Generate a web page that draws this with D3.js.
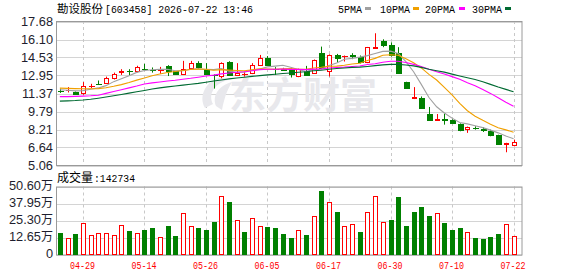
<!DOCTYPE html>
<html><head><meta charset="utf-8">
<script src="https://cdn.jsdelivr.net/npm/d3@7/dist/d3.min.js"></script>
<style>body{margin:0;background:#fff}svg{display:block}</style>
</head><body>
<svg id="c" width="578" height="276"></svg>
<script>
const title = "勘设股份";
const titleRest = "[603458] 2026-07-22 13:46";
const volTitle = "成交量";
const volTitleRest = ":142734";
const dates = ["04-24","04-27","04-28","04-29","04-30","05-06","05-07","05-08","05-11","05-12","05-13","05-14","05-15","05-18","05-19","05-20","05-21","05-22","05-25","05-26","05-27","05-28","05-29","06-01","06-02","06-03","06-04","06-05","06-08","06-09","06-10","06-11","06-12","06-15","06-16","06-17","06-18","06-22","06-23","06-24","06-25","06-26","06-29","06-30","07-01","07-02","07-03","07-06","07-07","07-08","07-09","07-10","07-13","07-14","07-15","07-16","07-17","07-20","07-21","07-22"];
const dateTicks = ["04-29","05-14","05-26","06-05","06-17","06-30","07-10","07-22"];
const opens  = [11.63,11.66,11.52,11.41,12.03,12.22,12.28,12.75,13.28,13.34,13.30,13.55,13.46,13.42,13.79,13.30,13.07,13.59,14.03,13.53,13.00,12.86,14.12,13.00,13.05,13.16,13.88,14.47,13.55,13.50,13.44,12.86,13.38,13.16,14.95,13.30,14.75,14.65,14.72,14.55,14.17,15.40,15.98,15.63,14.90,12.40,11.00,10.97,9.60,9.05,9.12,9.08,8.73,8.23,8.37,8.22,8.06,7.74,6.98,6.87];
const highs  = [11.80,11.93,11.55,12.37,12.22,12.51,12.85,13.20,13.50,13.50,13.80,13.97,13.65,13.70,13.85,13.35,14.23,14.23,14.20,14.03,13.05,14.10,14.20,14.03,13.30,14.03,14.75,14.65,13.68,13.62,13.65,13.55,13.79,14.35,15.48,14.80,14.84,14.70,14.90,14.70,15.45,16.65,16.12,15.85,15.43,12.40,11.93,11.11,10.19,9.57,9.60,9.10,8.75,8.47,8.50,8.42,8.20,7.76,7.05,7.33];
const lows   = [11.42,11.46,11.30,11.26,11.85,12.12,12.20,12.60,13.00,12.98,13.21,13.50,13.20,13.10,12.90,13.00,13.00,13.50,13.55,13.00,11.80,12.70,12.90,12.90,12.85,13.07,13.80,13.78,13.00,13.40,12.77,12.80,12.93,13.10,13.55,12.86,14.08,14.17,14.38,14.00,14.03,15.38,15.43,14.60,13.10,11.81,10.88,10.03,9.00,9.02,8.64,8.75,8.06,7.92,8.20,8.00,7.62,6.93,6.22,6.74];
const closes = [11.58,11.72,11.33,11.99,12.07,12.18,12.72,13.07,13.32,13.30,13.68,13.52,13.42,13.46,13.38,13.07,13.53,14.08,13.65,13.07,12.95,14.03,12.95,13.15,13.10,13.88,14.47,13.88,13.50,13.45,13.07,13.50,13.00,14.32,13.59,14.75,14.52,14.68,14.70,14.12,15.43,15.45,15.63,14.75,13.16,11.81,11.05,10.06,9.02,9.10,9.07,8.79,8.14,8.44,8.33,8.18,7.71,6.95,7.04,7.16];
const volumes = [16.4,12.6,15.6,23.6,14.6,16.1,16.1,14.9,22.1,17.9,16.1,18.6,20.3,13.4,21.6,14.1,31.0,21.3,20.3,18.8,24.6,43.7,39.4,25.8,17.1,27.3,21.3,20.8,20.3,15.6,12.6,18.4,14.9,28.8,47.6,39.2,32.0,21.3,22.8,17.1,31.8,43.7,24.3,26.0,43.2,21.6,32.0,35.7,29.0,31.0,23.8,18.6,20.1,16.9,12.6,11.9,13.4,15.6,22.8,14.27];
const ma5  = [11.70,11.66,11.60,11.62,11.74,11.86,12.06,12.41,12.67,12.92,13.22,13.38,13.45,13.48,13.49,13.37,13.37,13.50,13.54,13.48,13.46,13.56,13.33,13.23,13.24,13.42,13.51,13.70,13.77,13.84,13.67,13.47,13.30,13.47,13.50,13.83,14.04,14.37,14.45,14.56,14.69,14.88,15.06,15.08,14.88,14.16,13.28,12.17,11.02,10.21,9.66,9.21,8.82,8.71,8.55,8.38,8.16,7.92,7.64,7.41];
const ma10 = [11.84,11.82,11.80,11.78,11.78,11.80,11.88,12.00,12.15,12.33,12.54,12.72,12.93,13.08,13.21,13.30,13.38,13.48,13.51,13.49,13.41,13.46,13.42,13.39,13.36,13.44,13.53,13.51,13.50,13.53,13.55,13.49,13.50,13.61,13.67,13.76,13.77,13.85,13.96,14.02,14.26,14.45,14.72,14.76,14.72,14.42,14.07,13.61,13.05,12.55,11.91,11.24,10.50,9.86,9.38,9.02,8.68,8.37,8.18,7.98];
const ma20 = [11.10,11.10,11.12,11.14,11.17,11.22,11.38,11.54,11.70,11.86,12.02,12.20,12.30,12.38,12.46,12.53,12.62,12.70,12.80,12.91,12.98,13.09,13.17,13.23,13.28,13.37,13.46,13.50,13.50,13.51,13.48,13.48,13.46,13.51,13.52,13.60,13.65,13.68,13.73,13.78,13.91,13.98,14.11,14.19,14.19,14.09,13.92,13.73,13.50,13.28,13.08,12.85,12.61,12.31,12.05,11.72,11.38,10.99,10.61,10.26];
const ma30 = [10.70,10.72,10.75,10.80,10.87,10.96,11.06,11.17,11.28,11.40,11.52,11.64,11.76,11.86,11.95,12.03,12.10,12.18,12.26,12.36,12.46,12.56,12.65,12.73,12.80,12.87,12.94,13.00,13.06,13.12,13.17,13.23,13.28,13.36,13.41,13.50,13.56,13.61,13.66,13.68,13.74,13.81,13.88,13.92,13.92,13.87,13.79,13.66,13.50,13.37,13.24,13.07,12.91,12.75,12.59,12.40,12.17,11.94,11.73,11.52];
const priceTicks = [17.68,16.10,14.53,12.95,11.37,9.79,8.21,6.64,5.06];
const volTicks = [50.60,37.95,25.30,12.65,0];
const maNames = ["5PMA","10PMA","20PMA","30PMA"];
const maColors = ["#a0a0a0","#f0a000","#ff00ff","#006a32"];

const RED="#ff0000", GREEN="#008000";
const svg = d3.select("#c");
const L=56.5, R=522;
const x = d3.scaleBand().domain(dates).range([56, 517.4]);
const cx = d => x(d) + x.bandwidth()/2;
const y = d3.scaleLinear().domain([5.06,17.68]).range([165.5,21.5]);
const yv = d3.scaleLinear().domain([0,50.6]).range([255,187]);

function grid(top, bottom, ticks, scale){
  const g = svg.append("g");
  g.selectAll("line.h").data(ticks).join("line")
    .attr("x1",L).attr("x2",R).attr("y1",d=>Math.round(scale(d))+0.5).attr("y2",d=>Math.round(scale(d))+0.5)
    .attr("stroke","#d4d4d4");
  g.selectAll("line.v").data(dateTicks).join("line")
    .attr("x1",d=>Math.round(cx(d))+0.5).attr("x2",d=>Math.round(cx(d))+0.5)
    .attr("y1",top).attr("y2",bottom).attr("stroke","#c8c8c8").attr("stroke-dasharray","3,3");
  g.append("rect").attr("x",L).attr("y",top+0.5).attr("width",R-L).attr("height",bottom-top)
    .attr("fill","none").attr("stroke","#9a9a9a");
}
grid(21, 165, priceTicks, y);
grid(186.5, 254.5, volTicks, yv);

// watermark
svg.append("text").attr("x",229).attr("y",109).attr("font-family","Noto Sans CJK SC")
  .attr("font-size",37).attr("font-weight","bold").attr("fill","#e8e8ec").text("东方财富");
svg.append("path").attr("d","M205,108 C198,96 206,80 222,77 L228,80 C214,84 208,94 213,104 Z M216,106 C212,96 218,86 232,82 C226,92 224,100 222,110 Z")
  .attr("fill","#e8e8ec");

// candles
const bw = 5;
const cg = svg.append("g");
dates.forEach((d,i)=>{
  const o=opens[i], c=closes[i], h=highs[i], l=lows[i];
  const up = c>=o, col = up?RED:GREEN, X=Math.round(cx(d))+0.5;
  cg.append("line").attr("x1",X).attr("x2",X).attr("y1",y(h)).attr("y2",y(l)).attr("stroke",col);
  const top=Math.round(y(Math.max(o,c))), bot=Math.round(y(Math.min(o,c)));
  if (bot-top<1){
    cg.append("line").attr("x1",X-2.5).attr("x2",X+3.5).attr("y1",top+0.5).attr("y2",top+0.5).attr("stroke",col);
  } else if (up){
    cg.append("rect").attr("x",X-2).attr("y",top+0.5).attr("width",bw-1).attr("height",bot-top).attr("fill","#fff").attr("stroke",col);
  } else {
    cg.append("rect").attr("x",X-2.5).attr("y",top).attr("width",bw+1).attr("height",bot-top+1).attr("fill",col);
  }
});

// MA lines
[ma5,ma10,ma20,ma30].forEach((arr,k)=>{
  svg.append("path").attr("d",d3.line().x((v,i)=>cx(dates[i])).y(v=>y(v))(arr))
    .attr("fill","none").attr("stroke",maColors[k]).attr("stroke-width",1.1);
});

// volume bars
const vg = svg.append("g");
dates.forEach((d,i)=>{
  const up = i===0 ? closes[i]>=opens[i] : closes[i]>closes[i-1];
  const X=Math.round(cx(d))+0.5, t=Math.round(yv(volumes[i]));
  if(up) vg.append("rect").attr("x",X-2).attr("y",t+0.5).attr("width",4).attr("height",254-t).attr("fill","#fff").attr("stroke",RED);
  else vg.append("rect").attr("x",X-2.5).attr("y",t).attr("width",5).attr("height",255-t).attr("fill",GREEN);
});

// axis labels
const fmt2 = d3.format(".2f");
svg.append("g").selectAll("text").data(priceTicks).join("text")
  .attr("x",53).attr("y",d=>y(d)).attr("dy","0.36em").attr("text-anchor","end")
  .attr("font-family","Liberation Sans, Arial").attr("font-size",12.8).attr("fill","#1e1e2e").text(d=>fmt2(d));
const vt = svg.append("g").selectAll("text").data(volTicks).join("text")
  .attr("x",53).attr("y",d=>yv(d)-1.5).attr("dy","0.36em").attr("text-anchor","end")
  .attr("font-family","Liberation Sans, Arial").attr("font-size",12.8).attr("fill","#1e1e2e");
vt.append("tspan").text(d=>d===0?"0":fmt2(d));
vt.filter(d=>d!==0).append("tspan").attr("font-family","Noto Sans CJK SC").attr("font-size",12).text("万");

svg.append("g").selectAll("text").data(dateTicks).join("text")
  .attr("x",d=>cx(d)-0.5).attr("y",269).attr("text-anchor","middle")
  .attr("font-family","Liberation Mono").attr("font-size",11).attr("textLength",25).attr("lengthAdjust","spacingAndGlyphs")
  .attr("fill",RED).text(d=>d);

// titles
svg.append("text").attr("x",57).attr("y",13).attr("font-family","Noto Sans CJK SC").attr("font-size",11.5).attr("fill","#000").text(title);
svg.append("text").attr("x",105).attr("y",12.5).attr("font-family","Liberation Mono").attr("font-size",11)
  .attr("textLength",148).attr("lengthAdjust","spacingAndGlyphs").attr("fill","#000").text(titleRest);
svg.append("text").attr("x",57).attr("y",182).attr("font-family","Noto Sans CJK SC").attr("font-size",12).attr("fill","#000").text(volTitle);
svg.append("text").attr("x",94).attr("y",182).attr("font-family","Liberation Mono").attr("font-size",11)
  .attr("textLength",41).attr("lengthAdjust","spacingAndGlyphs").attr("fill","#000").text(volTitleRest);

// legend
const legX=[338,380,425,472], swX=[365,413,459,505];
maNames.forEach((n,k)=>{
  svg.append("text").attr("x",legX[k]).attr("y",12.5).attr("font-family","Liberation Mono").attr("font-size",11)
    .attr("textLength",n.length*6).attr("lengthAdjust","spacingAndGlyphs").attr("fill","#000").text(n);
  svg.append("rect").attr("x",swX[k]).attr("y",7).attr("width",6).attr("height",3).attr("fill",maColors[k]);
});
</script>
</body></html>
